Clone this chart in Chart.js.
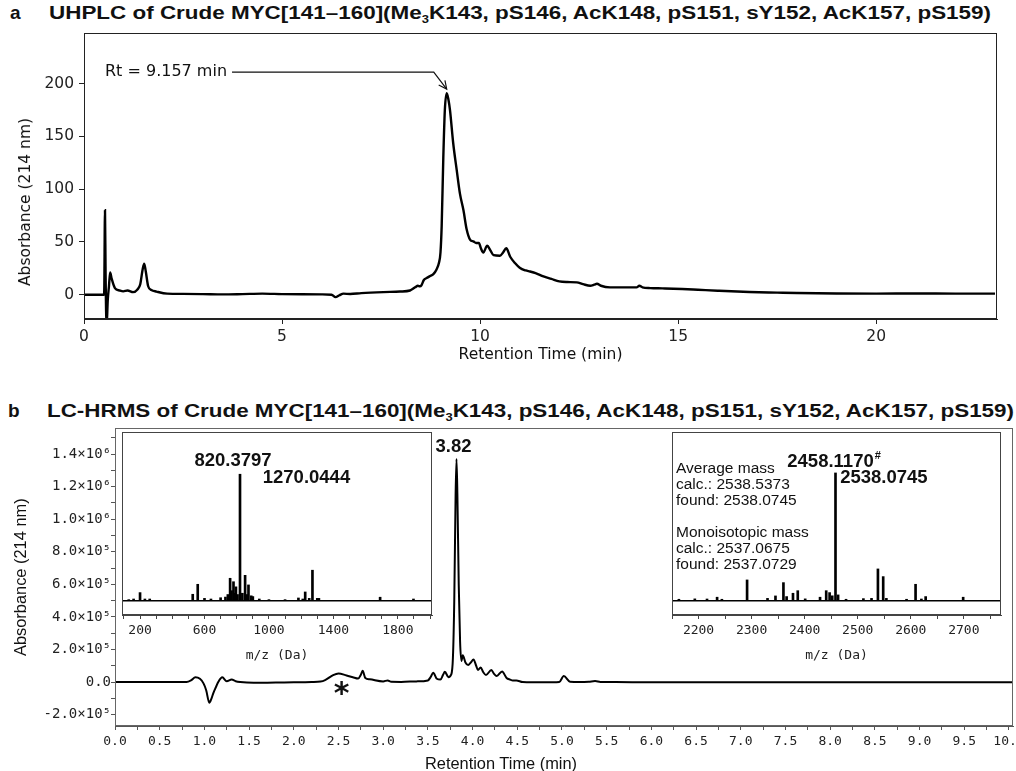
<!DOCTYPE html>
<html lang="en">
<head>
<meta charset="UTF-8" />
<title>Crude MYC[141–160] UHPLC and LC-HRMS</title>
<script src="https://cdn.jsdelivr.net/npm/chart.js"></script>
<style>
  body {
    margin: 0;
    background: #fff;
    width: 1016px;
    height: 771px;
    position: relative;
    overflow: hidden;
    font-family: 'Liberation Sans', Arial, sans-serif;
    color: #111;
  }
  canvas { position: absolute; }
  .txt { position: absolute; white-space: nowrap; }
  .panel-letter { font-weight: bold; font-size: 19px; line-height: 22px; }
  .title {
    font-weight: bold;
    font-size: 19px;
    line-height: 22px;
    transform-origin: 0 50%;
  }
  .title sub { font-size: 11px; vertical-align: -4px; line-height: 0; }
  .ylab {
    font-family: 'DejaVu Sans', sans-serif;
    font-size: 15.5px;
    transform: translate(-50%, -50%) rotate(-90deg);
  }
  .xlab-b {
    font-size: 16.4px;
    transform: translate(-50%, -50%);
  }
  .masses { font-size: 15.5px; line-height: 16px; }
</style>
</head>
<body>

  <div class="txt panel-letter" style="left:10px; top:2px;">a</div>
  <div class="txt title" data-fit="942" style="left:49px; top:2px;">UHPLC of Crude MYC[141–160](Me<sub>3</sub>K143, pS146, AcK148, pS151, sY152, AcK157, pS159)</div>

  <div class="txt panel-letter" style="left:8px; top:400px;">b</div>
  <div class="txt title" data-fit="967" style="left:47px; top:400px;">LC-HRMS of Crude MYC[141–160](Me<sub>3</sub>K143, pS146, AcK148, pS151, sY152, AcK157, pS159)</div>

  <canvas id="uv" width="1016" height="380" style="left:0; top:0;"></canvas>
  <canvas id="lc" width="1032" height="351" style="left:0; top:420px;"></canvas>
  <canvas id="msLow" width="360" height="245" style="left:100px; top:425px;"></canvas>
  <canvas id="msHigh" width="366" height="245" style="left:650px; top:425px;"></canvas>

  <div class="txt ylab" style="left:25px; top:202px;">Absorbance (214 nm)</div>
  <div class="txt xlab-b" style="left:501px; top:763px;">Retention Time (min)</div>

  <div class="txt masses" style="left:676px; top:460px;">
    Average mass<br>
    calc.: 2538.5373<br>
    found: 2538.0745<br>
    <br>
    Monoisotopic mass<br>
    calc.: 2537.0675<br>
    found: 2537.0729
  </div>

<script>
// ---- panel a: UHPLC trace (min, mAU) ----
const uvTime = [0, 0.3, 0.5, 0.51, 0.53, 0.545, 0.57, 0.6, 0.63, 0.66, 0.7, 0.78, 0.9, 0.99, 1.1, 1.24, 1.35, 1.42, 1.48,
  1.52, 1.56, 1.62, 1.7, 1.83, 2.1, 2.5, 3, 3.5, 4, 4.5, 5, 5.5, 6, 6.25, 6.35, 6.45, 6.55, 6.72, 7, 7.56, 7.98, 8.23,
  8.36, 8.43, 8.48, 8.52, 8.58, 8.65, 8.75, 8.82, 8.9, 8.96, 9.0, 9.03, 9.07, 9.11, 9.157, 9.2, 9.24, 9.32, 9.41, 9.49,
  9.58, 9.66, 9.75, 9.83, 9.9, 9.97, 10.02, 10.08, 10.18, 10.26, 10.34, 10.5, 10.58, 10.66, 10.76, 10.88, 11.0, 11.15,
  11.26, 11.4, 11.6, 11.8, 12.0, 12.2, 12.44, 12.6, 12.78, 12.88, 12.95, 13.05, 13.28, 13.6, 13.95, 14.02, 14.1, 14.3,
  14.6, 15.1, 15.5, 16.0, 16.8, 17.5, 18, 19, 20, 21, 22, 23];
const uvAbs = [0, 0, 0, 2, 80, 20, -30, -5, 8, 21, 15, 6.3, 4, 3.2, 4, 2.5, 5, 10, 24,
  29.5, 22, 8, 4.5, 3, 1, 0.8, 0.6, 0.3, 0.6, 1, 0.6, 0.4, 0.3, 0, -2.3, -0.5, 1, 0.7, 1.5, 2.5, 3, 4,
  7, 8.5, 8, 9, 14, 15.8, 18, 19.5, 24, 30, 40, 65, 128, 175, 191, 185, 175, 144, 118, 96,
  80, 62, 52, 50.5, 49, 49, 44, 40, 46.5, 42, 37.5, 37, 40, 44, 36, 30, 25.6, 23,
  22, 20.5, 17.4, 15, 12.6, 12, 11.7, 10, 8.5, 9.5, 10.4, 8.5, 7, 7, 7, 8.5, 7, 6.3,
  6, 5.4, 4.7, 3.8, 2.6, 2, 1.6, 1.2, 1, 1.2, 1, 1];
const uvRt = 9.157;

// ---- panel b: LC trace (min, counts) ----
const lcTime = [0, 0.5, 0.8, 0.85, 0.9, 0.95, 0.99, 1.02, 1.055, 1.08, 1.1, 1.13, 1.155, 1.2, 1.25, 1.305, 1.35, 1.4,
  1.55, 1.8, 2.0, 2.2, 2.3, 2.35, 2.44, 2.5, 2.59, 2.66, 2.72, 2.75, 2.77, 2.8, 2.85, 3.0, 3.05, 3.09, 3.2, 3.37, 3.5,
  3.53, 3.56, 3.6, 3.64, 3.67, 3.69, 3.73, 3.76, 3.78, 3.795, 3.81, 3.82, 3.83, 3.845, 3.86, 3.875, 3.89, 3.92, 3.95,
  3.98, 4.01, 4.04, 4.06, 4.09, 4.12, 4.15, 4.21, 4.24, 4.27, 4.33, 4.38, 4.42, 4.45, 4.49, 4.56, 4.8, 4.97, 5.02,
  5.09, 5.2, 5.3, 5.37, 5.43, 5.6, 6, 7, 8, 9, 10.05];
const lcAbs = [0, 0, 0, 10000, 30000, 20000, -8000, -50000, -127000, -100000, -68000, -30000, 0, 29000, 5000, 15000, 5000, 0,
  -5000, -3000, -2000, 0, 3000, 12000, 43000, 53000, 40000, 30000, 22000, 45000, 69000, 25000, 17000, 4000, 10000, 2000, 1000, 4000, 10000,
  30000, 57000, 20000, 15000, 45000, 63000, 30000, 45000, 150000, 500000, 1150000, 1370000, 1150000, 600000, 250000, 130000, 165000, 120000, 104000,
  120000, 139000, 100000, 74000, 90000, 60000, 43000, 74000, 50000, 37000, 65000, 25000, 15000, 10000, 10000, 0, -2000, 0, 37000,
  2000, 0, 2000, 6000, 1000, 0, -2000, -1000, -2000, -2000, -2000];
const lcApex = 3.82;
const lcSolventBump = 2.5;
// y ticks every 1e5, labelled every 2e5
const lcTickSteps = [-2, -1, 0, 1, 2, 3, 4, 5, 6, 7, 8, 9, 10, 11, 12, 13, 14, 15];

// ---- insets: mass spectra (m/z, relative intensity %) ----
const msLowMz = [130, 160, 200, 230, 260, 527, 558, 600, 640, 700, 730, 745, 759, 768, 780, 788, 795, 805, 820.3797,
  835, 852, 862, 873, 890, 900, 940, 1000, 1100, 1183, 1210, 1225, 1250, 1270.0444, 1300, 1310, 1690, 1897];
const msLowInt = [1, 1.5, 6.5, 1.5, 1.5, 5.2, 13, 2, 1.5, 2.5, 3, 5, 17.7, 8, 15, 6, 11, 5, 99,
  6, 20, 5, 12.5, 4, 3.4, 1.5, 1, 1, 2.3, 1.5, 7, 2, 24, 2, 2, 2.9, 1.5];
const msLowLabelled = [820.3797, 1270.0444];

const msHighMz = [2163, 2193, 2216, 2235, 2244, 2291.5, 2330, 2345, 2360, 2366, 2378, 2387, 2401, 2429, 2440.6, 2447,
  2452, 2458.117, 2463, 2478, 2510.7, 2526, 2538.0745, 2548, 2554, 2592, 2609, 2620, 2628, 2698.7];
const msHighInt = [1.3, 1.6, 1.5, 2.9, 1.3, 16.4, 2, 3.9, 14.3, 3.4, 6, 8, 1.6, 2.9, 8, 6.5,
  4, 100, 4.7, 1.3, 1.8, 2, 25, 19, 2, 1.3, 13, 1.5, 3.4, 2.9];
const msHighLabelled = [2458.117, 2538.0745];

const SUP = { '-': '⁻', '0': '⁰', '1': '¹', '2': '²', '3': '³', '4': '⁴', '5': '⁵', '6': '⁶', '7': '⁷', '8': '⁸', '9': '⁹' };
function sciLabel(v) {
  if (Math.abs(v) < 1) return '0.0';
  const e = Math.floor(Math.log10(Math.abs(v)));
  const m = v / Math.pow(10, e);
  return m.toFixed(1) + '×10' + String(e).split('').map(c => SUP[c]).join('');
}
const pts = (xs, ys) => xs.map((x, i) => ({ x: x, y: ys[i] }));

// box around the plot area, optional white fill underneath
const framePlugin = {
  id: 'frame',
  beforeDraw(chart, args, opts) {
    if (!opts.fill) return;
    const { left, top, right, bottom } = chart.chartArea;
    chart.ctx.save();
    chart.ctx.fillStyle = opts.fill;
    chart.ctx.fillRect(left, top, right - left, bottom - top);
    chart.ctx.restore();
  },
  afterDraw(chart, args, opts) {
    if (!opts.color) return;
    const { left, top, right, bottom } = chart.chartArea;
    const ctx = chart.ctx;
    ctx.save();
    ctx.strokeStyle = opts.color;
    ctx.lineWidth = 1;
    ctx.strokeRect(Math.round(left) + 0.5, Math.round(top) + 0.5, Math.round(right - left) - 1, Math.round(bottom - top) - 1);
    ctx.restore();
  }
};

// text tied to a data point
const peakLabels = {
  id: 'peakLabels',
  afterDatasetsDraw(chart, args, opts) {
    const items = opts.items || [];
    const ctx = chart.ctx;
    ctx.save();
    ctx.fillStyle = '#111';
    ctx.textAlign = 'center';
    ctx.textBaseline = 'middle';
    items.forEach(it => {
      const x = chart.scales.x.getPixelForValue(it.x) + (it.dx || 0);
      const y = chart.scales.y.getPixelForValue(it.y) + (it.dy || 0);
      ctx.font = it.font || 'bold 18.5px "Liberation Sans"';
      ctx.fillText(it.text, x, y);
      if (it.sup) {
        const w = ctx.measureText(it.text).width;
        ctx.font = 'bold 11px "Liberation Sans"';
        ctx.textAlign = 'left';
        ctx.fillText(it.sup, x + w / 2 + 1, y - 6);
        ctx.textAlign = 'center';
      }
    });
    ctx.restore();
  }
};

// "Rt = ... min" callout with an open arrow onto the main peak
const rtArrow = {
  id: 'rtArrow',
  afterDatasetsDraw(chart, args, opts) {
    if (!opts.rt) return;
    const xs = chart.scales.x, ys = chart.scales.y;
    const ctx = chart.ctx;
    const label = 'Rt = ' + opts.rt.toFixed(3) + ' min';
    const tx = xs.getPixelForValue(opts.textAt[0]);
    const ty = ys.getPixelForValue(opts.textAt[1]);
    const tipX = xs.getPixelForValue(opts.rt);
    const tipY = ys.getPixelForValue(opts.peak) - 4;
    const bendX = xs.getPixelForValue(opts.bendAt);
    ctx.save();
    ctx.font = '16px "DejaVu Sans"';
    ctx.fillStyle = '#111';
    ctx.textBaseline = 'middle';
    ctx.fillText(label, tx, ty);
    const startX = tx + ctx.measureText(label).width + 5;
    ctx.strokeStyle = '#111';
    ctx.lineWidth = 1.2;
    ctx.beginPath();
    ctx.moveTo(startX, ty);
    ctx.lineTo(bendX, ty);
    ctx.lineTo(tipX, tipY);
    ctx.stroke();
    const ang = Math.atan2(tipY - ty, tipX - bendX);
    const len = 9, spread = 0.45;
    ctx.beginPath();
    ctx.moveTo(tipX - len * Math.cos(ang - spread), tipY - len * Math.sin(ang - spread));
    ctx.lineTo(tipX, tipY);
    ctx.lineTo(tipX - len * Math.cos(ang + spread), tipY - len * Math.sin(ang + spread));
    ctx.stroke();
    ctx.restore();
  }
};

Chart.register(framePlugin, peakLabels, rtArrow);

const noChrome = { legend: { display: false }, tooltip: { enabled: false } };

// ---- panel a ----
new Chart(document.getElementById('uv'), {
  type: 'line',
  data: {
    datasets: [{
      data: pts(uvTime, uvAbs),
      borderColor: '#000',
      borderWidth: 2.4,
      pointRadius: 0,
      cubicInterpolationMode: 'monotone'
    }]
  },
  options: {
    responsive: false,
    animation: false,
    layout: { autoPadding: false, padding: { top: 33, right: 19, left: 0, bottom: 0 } },
    plugins: {
      ...noChrome,
      frame: { color: '#222' },
      rtArrow: { rt: uvRt, peak: uvAbs[uvTime.indexOf(uvRt)], textAt: [0.53, 211], bendAt: 8.83 }
    },
    scales: {
      x: {
        type: 'linear', min: 0, max: 23.05,
        afterFit(s) { s.height = 61; },
        ticks: { stepSize: 5, includeBounds: false, padding: 4, color: '#222', maxRotation: 0,
                 font: { family: 'DejaVu Sans', size: 15.5 } },
        grid: { drawOnChartArea: false, tickLength: 5, color: '#222' },
        border: { color: '#222' },
        title: { display: true, text: 'Retention Time (min)', color: '#111',
                 font: { family: 'DejaVu Sans', size: 15.5 }, padding: { top: 0, bottom: 16 } }
      },
      y: {
        min: -23, max: 248,
        afterFit(s) { s.width = 84; },
        ticks: { stepSize: 50, includeBounds: false, padding: 5, color: '#222',
                 font: { family: 'DejaVu Sans', size: 15.5 } },
        grid: { drawOnChartArea: false, tickLength: 5, color: '#222' },
        border: { color: '#222' }
      }
    }
  }
});

// ---- panel b ----
const monoTicks = { family: 'DejaVu Sans Mono', size: 13 };
new Chart(document.getElementById('lc'), {
  type: 'line',
  data: {
    datasets: [{
      data: pts(lcTime, lcAbs),
      borderColor: '#000',
      borderWidth: 2,
      pointRadius: 0,
      cubicInterpolationMode: 'monotone'
    }]
  },
  options: {
    responsive: false,
    animation: false,
    // canvas runs past the page edge so the last x label is cut like the frame
    layout: { autoPadding: false, padding: { top: 8, right: 19, left: 0, bottom: 0 } },
    plugins: {
      ...noChrome,
      frame: { color: '#666' },
      peakLabels: {
        items: [
          { x: lcApex, y: lcAbs[lcTime.indexOf(lcApex)], text: lcApex.toFixed(2), dx: -3, dy: -12 },
          { x: lcSolventBump, y: lcAbs[lcTime.indexOf(lcSolventBump)], text: '*', dx: 3, dy: 22,
            font: 'bold 30px "DejaVu Sans"' }
        ]
      }
    },
    scales: {
      x: {
        type: 'linear', min: 0, max: 10.045,
        afterFit(s) { s.height = 45; },
        ticks: {
          stepSize: 0.25, includeBounds: false, autoSkip: false, maxRotation: 0, minRotation: 0,
          padding: 4, color: '#222', font: monoTicks,
          callback: v => { const q = Math.round(v * 4); return q % 2 === 0 ? (q / 4).toFixed(1) : ''; }
        },
        grid: { drawOnChartArea: false, tickLength: 4, color: '#555' },
        border: { color: '#555' }
      },
      y: {
        min: -270000, max: 1558000,
        afterFit(s) { s.width = 115; },
        afterBuildTicks(s) { s.ticks = lcTickSteps.map(k => ({ value: k * 100000 })); },
        ticks: {
          autoSkip: false, padding: 0, color: '#222', font: { family: 'DejaVu Sans Mono', size: 14 },
          callback: v => { const k = Math.round(v / 100000); return k % 2 === 0 ? sciLabel(k * 100000) : ''; }
        },
        grid: { drawOnChartArea: false, tickLength: 4, color: '#555' },
        border: { color: '#555' },
        title: { display: true, text: 'Absorbance (214 nm)', color: '#111',
                 font: { family: 'Liberation Sans', size: 16.4 }, padding: { top: 12, bottom: 0 } }
      }
    }
  }
});

// ---- insets ----
function spectrum(canvasId, mz, inten, labelled, range, tickStep, isLabel, padRight, labelOpts) {
  return new Chart(document.getElementById(canvasId), {
    type: 'bar',
    data: {
      datasets: [{
        data: pts(mz, inten),
        backgroundColor: '#000',
        barThickness: 2,
        grouped: false
      }]
    },
    options: {
      responsive: false,
      animation: false,
      layout: { autoPadding: false, padding: { top: 7, right: padRight, left: 22, bottom: 0 } },
      plugins: {
        ...noChrome,
        frame: { color: '#444', fill: '#fff' },
        peakLabels: {
          items: labelled.map((m, i) => Object.assign({
            x: m, y: inten[mz.indexOf(m)], text: m.toFixed(4)
          }, labelOpts[i]))
        }
      },
      scales: {
        x: {
          type: 'linear', min: range[0], max: range[1], offset: false,
          afterFit(s) { s.height = 55; },
          ticks: {
            stepSize: tickStep, includeBounds: false, autoSkip: false, maxRotation: 0, minRotation: 0,
            padding: 4, color: '#222', font: monoTicks,
            callback: v => isLabel(Math.round(v)) ? String(Math.round(v)) : ''
          },
          grid: { drawOnChartArea: false, offset: false, tickLength: 4, color: '#444' },
          border: { color: '#444' },
          title: { display: true, text: 'm/z (Da)', color: '#222', font: monoTicks,
                   padding: { top: 0, bottom: 7 } }
        },
        y: {
          min: -11, max: 132,
          afterFit(s) { s.width = 0; },
          ticks: { display: false, stepSize: 10 },
          border: { display: false },
          grid: {
            drawTicks: false, lineWidth: 1.5,
            color: c => (c.tick && c.tick.value === 0) ? '#000' : 'rgba(0,0,0,0)'
          }
        }
      }
    }
  });
}

spectrum('msLow', msLowMz, msLowInt, msLowLabelled, [88, 2012], 100,
  v => v >= 200 && (v - 200) % 400 === 0, 28,
  [{ dx: -7, dy: -13 }, { dx: -6, dy: -92 }]);

spectrum('msHigh', msHighMz, msHighInt, msHighLabelled, [2150, 2770], 50,
  v => v >= 2200 && v <= 2700 && v % 100 === 0, 15,
  [{ dx: -5, dy: -11, sup: '#' }, { dx: 6, dy: -91 }]);

// stretch the two panel headings to their set widths
function fitTitles() {
  document.querySelectorAll('.title').forEach(el => {
    el.style.transform = 'none';
    const w = el.getBoundingClientRect().width;
    const target = parseFloat(el.dataset.fit);
    el.style.transform = 'scaleX(' + (target / w) + ')';
  });
}
fitTitles();
if (document.fonts && document.fonts.ready) document.fonts.ready.then(fitTitles);
</script>
</body>
</html>
